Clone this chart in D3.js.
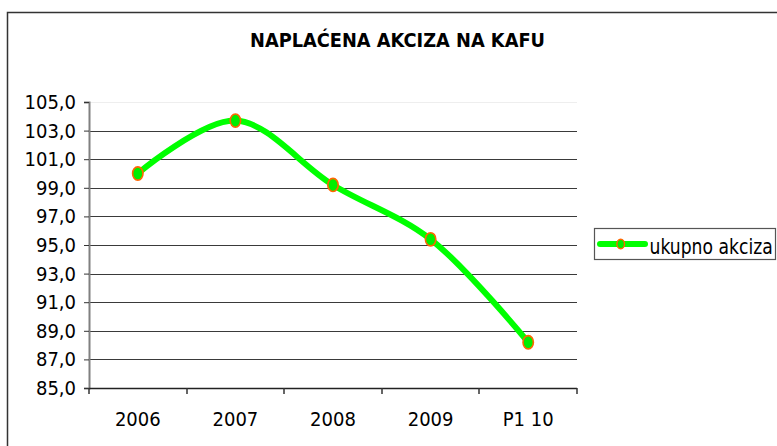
<!DOCTYPE html>
<html><head><meta charset="utf-8">
<script src="https://cdn.jsdelivr.net/npm/d3@7"></script>
<style>body{margin:0;background:#fff}svg{display:block}</style>
</head><body>
<svg id="c" width="777" height="446"></svg>
<script>
const categories = ["2006","2007","2008","2009","P1 10"];
const values = [100.0, 103.7, 99.2, 95.4, 88.2];
const yTicks = [85,87,89,91,93,95,97,99,101,103,105];
const seriesName = "ukupno akciza";
const titleText = "NAPLAĆENA AKCIZA NA KAFU";

const svg = d3.select("#c");
const font = "'DejaVu Sans Condensed','DejaVu Sans',sans-serif";
const pL = 89, pR = 577, pT = 102, pB = 388;

// outer frame
svg.append("rect").attr("x",7.5).attr("y",12.5).attr("width",800).attr("height",500)
  .attr("fill","#fff").attr("stroke","#333").attr("stroke-width",1.5);

svg.append("text").attr("x",397.5).attr("y",47).attr("text-anchor","middle")
  .attr("font-family",font).attr("font-weight","bold").attr("font-size",19.5)
  .attr("textLength",295).attr("lengthAdjust","spacingAndGlyphs")
  .text(titleText);

const x = d3.scaleBand().domain(categories).range([pL,pR]);
const y = d3.scaleLinear().domain([85,105]).range([pB,pT]);

// grid
svg.append("g").selectAll("line").data(yTicks.filter(t=>t>85&&t<105)).join("line")
  .attr("x1",pL).attr("x2",pR).attr("y1",d=>Math.round(y(d))+0.5).attr("y2",d=>Math.round(y(d))+0.5)
  .attr("stroke","#3a3a3a").attr("stroke-width",1);
svg.append("line").attr("x1",pL).attr("x2",pR).attr("y1",pT+0.5).attr("y2",pT+0.5)
  .attr("stroke","#eeeeee");

// y axis
const ya = svg.append("g").attr("transform",`translate(${pL},0)`)
  .call(d3.axisLeft(y).tickValues(yTicks).tickSize(5).tickPadding(8)
    .tickFormat(d=>d3.format(".1f")(d).replace(".",",")));
ya.select(".domain").attr("stroke","#808080").attr("stroke-width",2);
ya.selectAll(".tick line").attr("stroke","#333");
ya.selectAll("text").attr("font-family",font).attr("font-size",20).attr("fill","#000");

// x axis
const xa = svg.append("g").attr("transform",`translate(0,${pB})`)
  .call(d3.axisBottom(x).tickSize(0).tickPadding(0));
xa.select(".domain").remove();
svg.append("line").attr("x1",pL).attr("x2",pR).attr("y1",pB+0.5).attr("y2",pB+0.5).attr("stroke","#222").attr("stroke-width",1.5);
const edges = categories.map(c=>x(c)).concat([pR]);
svg.append("g").selectAll("line").data(edges).join("line")
  .attr("x1",d=>Math.round(d)).attr("x2",d=>Math.round(d)).attr("y1",pB).attr("y2",pB+6)
  .attr("stroke","#333").attr("stroke-width",1.5);
xa.selectAll("text").attr("font-family",font).attr("font-size",20).attr("fill","#000")
  .attr("dy",null).attr("y",37.7);

// line
const line = d3.line().x((d,i)=>x(categories[i])+x.bandwidth()/2).y(d=>y(d)).curve(d3.curveCatmullRom.alpha(0.5));
svg.append("path").datum(values).attr("d",line).attr("fill","none")
  .attr("stroke","#00ff00").attr("stroke-width",6).attr("stroke-linejoin","round");
svg.append("g").selectAll("ellipse").data(values).join("ellipse")
  .attr("cx",(d,i)=>x(categories[i])+x.bandwidth()/2).attr("cy",d=>y(d))
  .attr("rx",5.2).attr("ry",6.6).attr("fill","#00ee00").attr("stroke","#ff6600").attr("stroke-width",1.6);

// legend
const lg = svg.append("g");
lg.append("rect").attr("x",594.5).attr("y",228.5).attr("width",181).attr("height",31)
  .attr("fill","#fff").attr("stroke","#555").attr("stroke-width",1.2);
lg.append("line").attr("x1",600).attr("x2",645).attr("y1",244).attr("y2",244)
  .attr("stroke","#00ff00").attr("stroke-width",6).attr("stroke-linecap","round");
lg.append("ellipse").attr("cx",620.7).attr("cy",244).attr("rx",3.8).attr("ry",4.8)
  .attr("fill","#00ee00").attr("stroke","#ff6600").attr("stroke-width",1.4);
lg.append("text").attr("transform","translate(649.5,253.5) scale(1,1.2)")
  .attr("font-family","'DejaVu Sans',sans-serif").attr("font-size",17.2).text(seriesName);
</script>
</body></html>
